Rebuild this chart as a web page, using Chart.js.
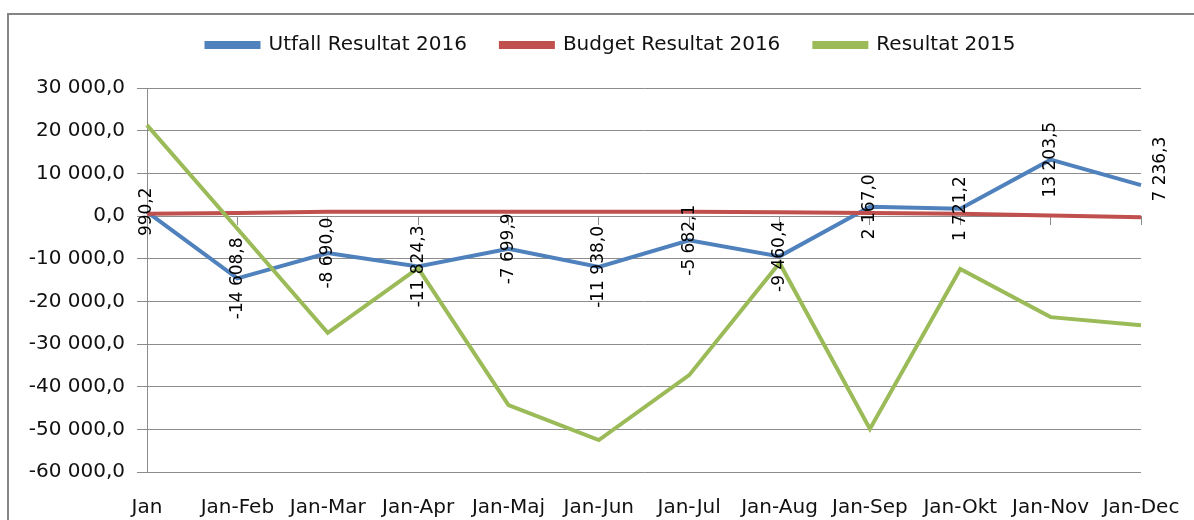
<!DOCTYPE html>
<html>
<head>
<meta charset="utf-8">
<script src="https://cdn.jsdelivr.net/npm/chart.js@4"></script>
<style>
  html, body { margin: 0; padding: 0; background: #fff; overflow: hidden; }
  #frame { position: absolute; left: 7px; top: 13px; width: 1400px; height: 800px; border: 2px solid #858585; }
  #c { position: absolute; left: 0; top: 0; }
</style>
</head>
<body>
<div id="frame"></div>
<canvas id="c" width="1194" height="520"></canvas>
<script>
const categories = ['Jan', 'Jan-Feb', 'Jan-Mar', 'Jan-Apr', 'Jan-Maj', 'Jan-Jun', 'Jan-Jul', 'Jan-Aug', 'Jan-Sep', 'Jan-Okt', 'Jan-Nov', 'Jan-Dec'];
const utfall2016 = [990.2, -14608.8, -8690.0, -11824.3, -7699.9, -11938.0, -5682.1, -9460.4, 2167.0, 1721.2, 13203.5, 7236.3];
const budget2016 = [500, 700, 1000, 1000, 1000, 1000, 1000, 900, 700, 500, 100, -300];
const resultat2015 = [21300, -3000, -27400, -12200, -44300, -52500, -37300, -11000, -49900, -12400, -23700, -25600];
const seriesNames = ['Utfall Resultat 2016', 'Budget Resultat 2016', 'Resultat 2015'];
const yMin = -60000, yMax = 30000, yStep = 10000;

const FONT = 'DejaVu Sans';

function fmt(v) {
  const neg = v < 0;
  const s = Math.abs(v).toFixed(1);
  let [i, d] = s.split('.');
  i = i.replace(/\B(?=(\d{3})+(?!\d))/g, ' ');
  return (neg && Math.abs(v) >= 0.05 ? '-' : '') + i + ',' + d;
}

const dataLabels = {
  id: 'dataLabels',
  afterDatasetsDraw(chart) {
    const meta = chart.getDatasetMeta(0);
    const ds = chart.data.datasets[0];
    const ctx = chart.ctx;
    const last = meta.data.length - 1;
    ctx.save();
    ctx.font = '17px "' + FONT + '"';
    ctx.fillStyle = '#000';
    ctx.textAlign = 'center';
    ctx.textBaseline = 'middle';
    meta.data.forEach((pt, i) => {
      // last label is pushed to the right of the end point, as in the original
      const dx = i === last ? 20 : 0;
      const dy = i === last ? -16 : 0;
      ctx.save();
      ctx.translate(pt.x + dx, pt.y + dy);
      ctx.rotate(-Math.PI / 2);
      ctx.fillText(fmt(ds.data[i]), 0, 0);
      ctx.restore();
    });
    ctx.restore();
  }
};

const colors = ['#4F81BD', '#C0504D', '#9BBB59'];

new Chart(document.getElementById('c'), {
  type: 'line',
  data: {
    labels: categories,
    datasets: [
      { label: seriesNames[0], data: utfall2016, borderColor: colors[0], backgroundColor: colors[0], order: 3 },
      { label: seriesNames[1], data: budget2016, borderColor: colors[1], backgroundColor: colors[1], order: 2 },
      { label: seriesNames[2], data: resultat2015, borderColor: colors[2], backgroundColor: colors[2], order: 1 }
    ]
  },
  options: {
    responsive: false,
    animation: false,
    devicePixelRatio: 1,
    layout: { padding: { top: 1, left: 28, right: 0, bottom: 0 } },
    elements: {
      line: { borderWidth: 4, tension: 0, borderCapStyle: 'butt', borderJoinStyle: 'miter' },
      point: { radius: 0, hoverRadius: 0 }
    },
    plugins: {
      legend: {
        position: 'top',
        weight: 1000,
        labels: {
          boxWidth: 52,
          boxHeight: 4,
          padding: 34,
          color: '#111',
          font: { family: FONT, size: 20 },
          sort: (a, b) => a.datasetIndex - b.datasetIndex
        }
      },
      title: {
        display: true,
        text: '',
        weight: 500,
        font: { size: 1, lineHeight: 1 },
        padding: { top: 0, bottom: 22 }
      },
      tooltip: { enabled: false }
    },
    scales: {
      x: {
        type: 'category',
        offset: false,
        grid: { display: false },
        border: { display: false },
        ticks: { color: '#111', font: { family: FONT, size: 20 }, padding: 16, maxRotation: 0, autoSkip: false },
        afterFit(scale) { scale.height = 48; scale.paddingRight = 53; scale.paddingLeft = 0; }
      },
      x0: {
        type: 'category',
        axis: 'x',
        labels: categories,
        offset: false,
        position: { y: 0 },
        grid: { display: true, drawOnChartArea: false, drawTicks: true, tickLength: 8, color: '#8c8c8c' },
        border: { display: true, color: '#8c8c8c' },
        ticks: { display: false }
      },
      y: {
        min: yMin,
        max: yMax,
        ticks: {
          stepSize: yStep,
          color: '#111',
          font: { family: FONT, size: 20 },
          padding: 12,
          callback: (v) => fmt(v)
        },
        grid: { color: '#8c8c8c', tickLength: 10 },
        border: { display: true, color: '#8c8c8c' },
        afterFit(scale) { scale.width = 147 - 28; }
      }
    }
  },
  plugins: [dataLabels]
});
</script>
</body>
</html>
